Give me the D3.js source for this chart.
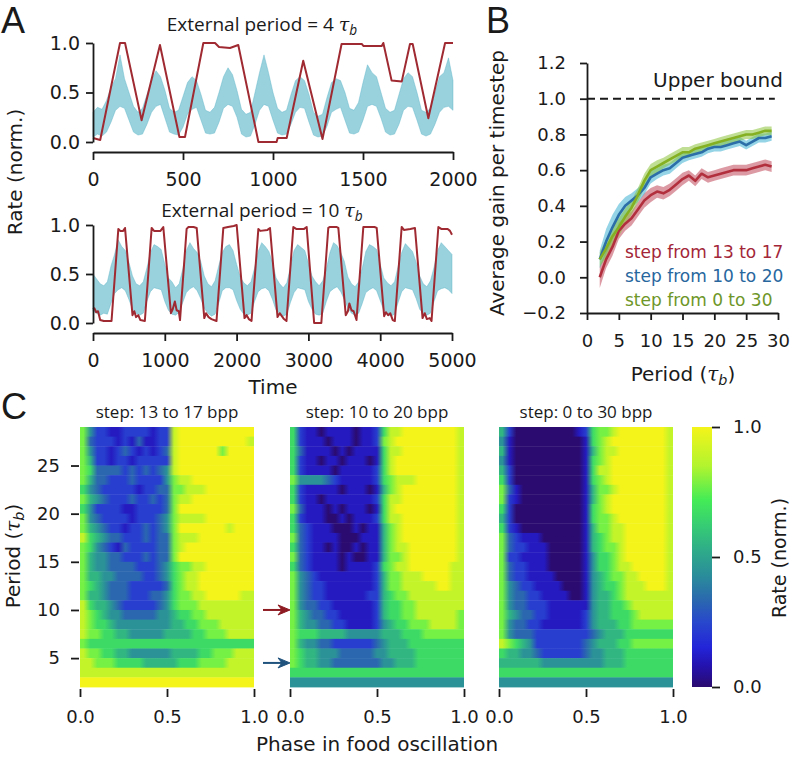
<!DOCTYPE html>
<html lang="en">
<head>
<meta charset="utf-8">
<title>food oscillation figure</title>
<script src="https://d3js.org/d3.v7.min.js"></script>
<style>
body { margin: 0; background: #fff; }
svg text { font-family: "DejaVu Sans", sans-serif; }
</style>
</head>
<body>
<svg id="fig" width="793" height="758"></svg>
<script>
// ---------------- data ----------------
// panel A, top: external period = 4 tau_b
var topRedT = [0, 40, 150, 178, 270, 372, 480, 511, 613, 678, 700, 761, 807, 919, 1020, 1026, 1076, 1168, 1275, 1381, 1493, 1502, 1604, 1613, 1659, 1715, 1761, 1776, 1863, 1956, 2000];
var topRedV = [0.04, 0.02, 1.0, 1.0, 0.22, 0.98, 0.05, 0.05, 1.0, 1.0, 0.96, 0.95, 0.98, 0.0, 0.0, 0.04, 0.04, 0.82, 0.03, 0.99, 0.99, 0.97, 0.97, 1.0, 0.62, 0.61, 0.99, 0.99, 0.24, 1.0, 1.0];
// cyan trace envelope, every 25 time units
var topCyanLo = [.05,.08,.06,.10,.20,.32,.36,.34, .22,.10,.07,.08,.18,.30,.36,.38, .24,.10,.08,.07,.15,.28,.33,.35,
  .22,.09,.08,.09,.20,.34,.38,.36, .25,.08,.05,.06,.18,.32,.38,.36, .22,.09,.07,.08,.18,.30,.35,.34,
  .20,.07,.05,.06,.16,.30,.33,.35, .22,.09,.08,.10,.22,.36,.38,.36, .24,.10,.07,.08,.18,.32,.36,.35,
  .22,.08,.06,.08,.18,.30,.35,.36, .32];
var topCyanHi = [.30,.35,.33,.42,.55,.64,.88,.64, .50,.36,.30,.34,.48,.62,.72,.66, .52,.34,.30,.32,.46,.60,.66,.62,
  .48,.32,.30,.35,.50,.66,.75,.68, .52,.33,.28,.30,.50,.70,.88,.70, .50,.34,.30,.32,.48,.62,.66,.62,
  .48,.30,.26,.28,.45,.60,.64,.62, .50,.34,.32,.40,.60,.78,.70,.66, .50,.34,.30,.32,.48,.64,.70,.66,
  .50,.32,.30,.34,.50,.66,.70,.85, .62];

// panel A, bottom: external period = 10 tau_b
var botRedT = [0, 20, 45, 70, 100, 150, 258, 353, 380, 420, 446, 550, 575, 600, 630, 660, 722,
  817, 850, 940, 979, 1085, 1110, 1140, 1165, 1195, 1212,
  1304, 1330, 1400, 1444, 1550, 1575, 1610, 1650, 1720,
  1815, 1880, 1960, 2001, 2110, 2140, 2170, 2208,
  2303, 2330, 2430, 2465, 2570, 2600, 2630, 2660, 2695,
  2790, 2830, 2940, 2976, 3080, 3180,
  3277, 3300, 3390, 3417, 3520, 3550, 3570, 3600, 3630, 3670,
  3765, 3800, 3920, 3951, 4055, 4080, 4110, 4140, 4175, 4204,
  4299, 4330, 4420, 4484, 4590, 4620, 4650, 4690, 4715,
  4810, 4850, 4940, 4972, 5000];
var botRedV = [0.14, 0.15, 0.11, 0.12, 0.03, 0.02, 0.02, 0.96, 0.94, 0.94, 0.97, 0.08, 0.12, 0.06, 0.08, 0.03, 0.02,
  0.97, 0.94, 0.94, 0.98, 0.10, 0.14, 0.22, 0.13, 0.12, 0.03,
  0.96, 0.98, 0.98, 0.97, 0.05, 0.10, 0.06, 0.04, 0.02,
  0.97, 0.98, 0.99, 1.0, 0.05, 0.08, 0.04, 0.02,
  0.96, 0.94, 0.95, 0.97, 0.06, 0.10, 0.07, 0.04, 0.02,
  0.98, 0.96, 0.96, 0.98, 0.0, 0.0,
  0.97, 0.98, 0.98, 0.97, 0.08, 0.12, 0.20, 0.13, 0.12, 0.03,
  0.98, 0.98, 0.98, 0.97, 0.07, 0.11, 0.08, 0.10, 0.03, 0.02,
  0.98, 0.95, 0.96, 0.97, 0.05, 0.10, 0.04, 0.05, 0.02,
  0.98, 0.96, 0.96, 0.94, 0.90];
// cyan trace envelope, every 50 time units
var botCyanLo = [.12,.10,.08,.10,.09,.20,.30,.34,.36,.33, .24,.14,.10,.08,.10,.22,.32,.36,.35,.34,
  .22,.13,.09,.08,.11,.21,.31,.35,.37,.33, .25,.15,.10,.07,.09,.20,.33,.36,.36,.34,
  .23,.14,.09,.08,.10,.22,.32,.35,.36,.33, .24,.13,.10,.07,.09,.21,.31,.36,.35,.34,
  .22,.14,.09,.08,.10,.22,.32,.35,.37,.32, .24,.15,.10,.08,.10,.20,.31,.34,.36,.33,
  .23,.13,.09,.07,.09,.21,.32,.36,.35,.34, .25,.14,.10,.08,.10,.22,.33,.35,.36,.34, .30];
var botCyanHi = [.50,.45,.40,.38,.42,.58,.70,.85,.78,.74, .62,.48,.40,.38,.42,.56,.72,.80,.78,.75,
  .60,.46,.42,.36,.40,.55,.74,.82,.76,.72, .63,.48,.40,.37,.43,.58,.72,.78,.80,.74,
  .60,.47,.41,.38,.42,.56,.73,.82,.78,.73, .62,.46,.40,.36,.41,.57,.74,.80,.77,.74,
  .61,.48,.42,.38,.43,.55,.72,.82,.79,.72, .63,.47,.40,.37,.42,.56,.73,.80,.78,.75,
  .60,.46,.41,.38,.42,.58,.72,.81,.77,.73, .62,.48,.40,.37,.43,.57,.74,.82,.78,.74, .70];

// panel B: average gain per timestep vs period
var periodsB = [2,3,4,5,6,7,8,9,10,11,12,13,14,15,16,17,18,19,20,21,22,23,24,25,26,27,28,29];
var gain13to17 = [0.0,0.1,0.17,0.26,0.3,0.33,0.38,0.43,0.46,0.48,0.47,0.49,0.52,0.55,0.57,0.54,0.58,0.56,0.57,0.58,0.59,0.6,0.6,0.6,0.61,0.62,0.63,0.62];
var gain10to20 = [0.1,0.2,0.28,0.35,0.4,0.43,0.46,0.5,0.56,0.58,0.6,0.61,0.64,0.67,0.68,0.69,0.7,0.72,0.73,0.73,0.74,0.75,0.76,0.74,0.76,0.78,0.78,0.79];
var gain0to30 = [0.1,0.16,0.23,0.28,0.34,0.39,0.46,0.54,0.6,0.62,0.64,0.66,0.68,0.7,0.7,0.72,0.73,0.74,0.75,0.76,0.77,0.78,0.79,0.8,0.8,0.81,0.82,0.82];
var err13to17 = [.06,.05,.05,.045,.04,.04,.04,.04,.04,.035,.035,.035,.035,.035,.03,.03,.03,.03,.03,.03,.03,.03,.03,.03,.03,.03,.03,.03];
var err10to20 = [.05,.07,.07,.06,.05,.04,.04,.035,.035,.03,.03,.03,.03,.03,.025,.025,.025,.025,.025,.025,.025,.025,.025,.025,.025,.025,.025,.025];
var err0to30  = [.04,.05,.05,.05,.045,.04,.04,.04,.035,.035,.03,.03,.03,.03,.03,.025,.025,.025,.025,.025,.025,.025,.025,.025,.025,.025,.025,.025];
var legendB = ["step from 13 to 17", "step from 10 to 20", "step from 0 to 30"];

// panel C: rate (norm.) per period (rows, 28 at top down to 2) and phase bin (columns),
// one digit per cell, value = digit / 9
var heat13to17 = [
  "7422112222122899999999999","7322212131122899999999998","7422123212123899999979999",
  "7522122122222899999999999","7633332323234899999999999","7533222322224788999999999",
  "6432222212233778889999999","7543222322323788999999999","6422221122223799999999999",
  "7432222122234788889999999","7543221223234799999998999","8654332223233788899999999",
  "7643213222233789999999999","7544332223233799999999999","7544333322234677889999999",
  "7554433332234678899999999","7654333222223678899999999","7554333222334677889999988",
  "8655432222234677788888888","8765443333344566778888888","8766544444444556677788888",
  "8776655444445555667778888","7666666666666666666666666","8776655444444555566777888",
  "8877766665555566677778888","8888888888888888888888888","9999999999999999999999999"];
var heat10to20 = [
  "6211011110112688999999998","6211101110112789999999998","6311110101111688999999998",
  "6211011011101689999999998","6211110111112689999999998","7444432111112678889999998",
  "6211111011101578999999998","6211011111112688999999998","7311101011101689999999998",
  "6211100101112688999999998","6321110001011578999999998","7321111000111578999999998",
  "6321101001011578899999998","7321111010011577899999998","6321111011112678899999988",
  "7432111111112577888999988","7432211111112577888889988","7432211111122567788888888",
  "7433221111112566778888888","7543322111112566778888887","7544332211112456677788887",
  "7666555544444555666777777","7544332222223455566666666","7655444333334455556666666",
  "7655443333333445556666666","6666666666666666666666666","4444444444444444444444444"];
var heat0to30 = [
  "5200000000012677899999998","4100000000001678999999998","5100000000001578899999998",
  "4100000000001678999999998","5200000000001688999999998","6200000000001678999999998",
  "7310000000001577899999998","7210000000001578999999998","6200000000001678999999998",
  "5200000000001677899999998","6210000000001577889999998","7321110000001567889999998",
  "7322111000001567789999998","7221111000001466789999998","7322111000001466788999998",
  "7322111100001456778899998","7432211110001456678889998","7433221111001455678888888",
  "7433222111111455667888888","7543322111112455666788888","7433221111112455566777777",
  "7433322222222345556666666","8765422222223455566777777","6554432222223445556666666",
  "5555554444444445556666666","6666666666666666666666666","4444444444444444444444444"];
var heatTitles = ["step: 13 to 17 bpp", "step: 10 to 20 bpp", "step: 0 to 30 bpp"];
var periodsC = [28,27,26,25,24,23,22,21,20,19,18,17,16,15,14,13,12,11,10,9,8,7,6,5,4,3,2];

// ---------------- drawing ----------------
var svg = d3.select("#fig");
var INK = "#1a1a1a";
var RED = "#a02a31", CYAN = "#55b2c6";

function styleAxis(g, fs) {
  g.selectAll("path, line").attr("stroke", INK).attr("stroke-width", 1.8);
  g.selectAll("text").attr("font-size", fs).attr("fill", INK)
    .attr("font-family", "DejaVu Sans, sans-serif");
}

// text with "tau_b"
function tauText(sel, before, after, fs) {
  sel.append("tspan").text(before);
  sel.append("tspan").attr("font-style", "italic").attr("font-family", "DejaVu Serif, serif").text("\u03C4");
  sel.append("tspan").attr("font-style", "italic").attr("font-size", fs * 0.72)
    .attr("dy", fs * 0.22).text("b");
  if (after) sel.append("tspan").attr("dy", -fs * 0.22).text(after);
}

// ----- panel A -----
function tracePanel(x, y, axisY, cyLo, cyHi, cyStep, redT, redV, xticks, title, titleY) {
  var cyT = d3.range(0, x.domain()[1] + 1, cyStep);
  var band = d3.area()
    .x(function (d, i) { return x(cyT[i]); })
    .y0(function (d, i) { return y(cyLo[i]); })
    .y1(function (d, i) { return y(cyHi[i]); });
  svg.append("path").datum(cyLo).attr("d", band)
    .attr("fill", CYAN).attr("fill-opacity", 0.6)
    .attr("stroke", CYAN).attr("stroke-width", 0.8).attr("stroke-opacity", 0.5);

  var line = d3.line()
    .x(function (d, i) { return x(redT[i]); })
    .y(function (d) { return y(d); });
  svg.append("path").datum(redV).attr("d", line)
    .attr("fill", "none").attr("stroke", RED).attr("stroke-width", 2)
    .attr("stroke-linejoin", "round");

  var ya = svg.append("g").attr("transform", "translate(" + x.range()[0] + ",0)")
    .call(d3.axisLeft(y).tickValues([0, 0.5, 1]).tickFormat(d3.format(".1f"))
      .tickSize(7).tickPadding(6).tickSizeOuter(0));
  styleAxis(ya, 19);
  var xa = svg.append("g").attr("transform", "translate(0," + axisY + ")")
    .call(d3.axisBottom(x).tickValues(xticks).tickFormat(d3.format("d"))
      .tickSize(8).tickPadding(13).tickSizeOuter(0));
  styleAxis(xa, 19);

  var t = svg.append("text").attr("x", 262).attr("y", titleY)
    .attr("text-anchor", "middle").attr("font-size", 19).attr("fill", INK)
    .style("font-family", "Open Sans, sans-serif");
  tauText(t, title, null, 19);
}

var xA1 = d3.scaleLinear().domain([0, 2000]).range([93, 453]);
var yA1 = d3.scaleLinear().domain([0, 1]).range([142, 43]);
tracePanel(xA1, yA1, 152, topCyanLo, topCyanHi, 25, topRedT, topRedV,
  [0, 500, 1000, 1500, 2000], "External period = 4 ", 31);

var xA2 = d3.scaleLinear().domain([0, 5000]).range([93, 452]);
var yA2 = d3.scaleLinear().domain([0, 1]).range([323, 225]);
tracePanel(xA2, yA2, 333, botCyanLo, botCyanHi, 50, botRedT, botRedV,
  [0, 1000, 2000, 3000, 4000, 5000], "External period = 10 ", 217);

svg.append("text").attr("transform", "translate(22,172) rotate(-90)")
  .attr("text-anchor", "middle").attr("font-size", 20).attr("fill", INK).text("Rate (norm.)");
svg.append("text").attr("x", 273).attr("y", 394)
  .attr("text-anchor", "middle").attr("font-size", 20).attr("fill", INK).text("Time");

// ----- panel B -----
var xB = d3.scaleLinear().domain([0, 30]).range([587, 778]);
var yB = d3.scaleLinear().domain([-0.2, 1.2]).range([313, 63]);

svg.append("line")
  .attr("x1", xB(0)).attr("x2", xB(29.5)).attr("y1", yB(1)).attr("y2", yB(1))
  .attr("stroke", INK).attr("stroke-width", 2).attr("stroke-dasharray", "8,5");
svg.append("text").attr("x", 783).attr("y", 87).attr("text-anchor", "end")
  .attr("font-size", 20).attr("fill", INK).text("Upper bound");

var seriesB = [
  { v: gain13to17, e: err13to17, line: "#b2303e", band: "#c0485a", text: "#a32638" },
  { v: gain10to20, e: err10to20, line: "#2b6ea8", band: "#3cb0d2", text: "#28679e" },
  { v: gain0to30,  e: err0to30,  line: "#84b022", band: "#8cc43c", text: "#6e9628" }
];
seriesB.forEach(function (s) {
  var band = d3.area()
    .x(function (d, i) { return xB(periodsB[i]); })
    .y0(function (d, i) { return yB(d - s.e[i]); })
    .y1(function (d, i) { return yB(d + s.e[i]); });
  svg.append("path").datum(s.v).attr("d", band)
    .attr("fill", s.band).attr("fill-opacity", 0.55);
});
seriesB.forEach(function (s) {
  var line = d3.line()
    .x(function (d, i) { return xB(periodsB[i]); })
    .y(function (d) { return yB(d); });
  svg.append("path").datum(s.v).attr("d", line)
    .attr("fill", "none").attr("stroke", s.line).attr("stroke-width", 2.6)
    .attr("stroke-linejoin", "round");
});
legendB.forEach(function (name, i) {
  svg.append("text").attr("x", 625).attr("y", 258 + i * 24)
    .attr("font-size", 17).attr("fill", seriesB[i].text).text(name);
});

var yaB = svg.append("g").attr("transform", "translate(587,0)")
  .call(d3.axisLeft(yB).tickValues([-0.2, 0, 0.2, 0.4, 0.6, 0.8, 1.0, 1.2])
    .tickFormat(function (d) { return d3.format(".1f")(d).replace("-", "\u2212"); })
    .tickSize(7).tickPadding(14).tickSizeOuter(0));
styleAxis(yaB, 18);
var xaB = svg.append("g").attr("transform", "translate(0,313)")
  .call(d3.axisBottom(xB).tickValues([0, 5, 10, 15, 20, 25, 30])
    .tickSize(7).tickPadding(14).tickSizeOuter(0));
styleAxis(xaB, 18);

svg.append("text").attr("transform", "translate(504,183) rotate(-90)")
  .attr("text-anchor", "middle").attr("font-size", 20).attr("fill", INK).text("Average gain per timestep");
var pB = svg.append("text").attr("x", 683).attr("y", 381)
  .attr("text-anchor", "middle").attr("font-size", 20).attr("fill", INK);
tauText(pB, "Period (", ")", 20);

// ----- panel C -----
var cmap = d3.scaleLinear()
  .domain([0, 0.08, 0.15, 0.25, 0.33, 0.42, 0.52, 0.62, 0.72, 0.85, 1])
  .range(["#2b0b6f", "#2412ad", "#2324d8", "#2848cc", "#2a66b0", "#2a8a9c",
          "#2eaa8a", "#36cc74", "#44ec56", "#b2f42e", "#f4f41a"]);
var yC = d3.scaleLinear().domain([2, 29]).range([687, 427]);
var defs = svg.append("defs");
var heatWidth = 174;
var heatLeft = [80, 290, 499];

[heat13to17, heat10to20, heat0to30].forEach(function (rows, h) {
  var x = d3.scaleLinear().domain([0, 1]).range([heatLeft[h], heatLeft[h] + heatWidth]);
  rows.forEach(function (row, r) {
    var p = periodsC[r];
    var n = row.length;
    var id = "hm" + h + "_" + r;
    var grad = defs.append("linearGradient").attr("id", id)
      .attr("gradientUnits", "userSpaceOnUse")
      .attr("x1", x(0)).attr("x2", x(1)).attr("y1", 0).attr("y2", 0);
    row.split("").forEach(function (ch, c) {
      var xc = x((c + 0.5) / n);
      grad.append("stop").attr("offset", (xc - x(0)) / heatWidth)
        .attr("stop-color", cmap(+ch / 9));
    });
    svg.append("rect")
      .attr("x", x(0)).attr("width", heatWidth)
      .attr("y", yC(p + 1)).attr("height", yC(p) - yC(p + 1) + 0.4)
      .attr("fill", "url(#" + id + ")");
  });

  var xa = svg.append("g").attr("transform", "translate(0,689)")
    .call(d3.axisBottom(x).tickValues([0, 0.5, 1]).tickFormat(d3.format(".1f"))
      .tickSize(8).tickPadding(13));
  xa.select(".domain").remove();
  styleAxis(xa, 18);

  svg.append("text").attr("x", x(0.5)).attr("y", 418)
    .attr("text-anchor", "middle").attr("font-size", 17).attr("fill", INK)
    .style("font-family", "Open Sans, sans-serif").text(heatTitles[h]);
});

var yaC = svg.append("g").attr("transform", "translate(79,0)")
  .call(d3.axisLeft(yC).tickValues([5, 10, 15, 20, 25]).tickSize(8).tickPadding(11));
yaC.select(".domain").remove();
styleAxis(yaC, 18);

var pC = svg.append("text").attr("transform", "translate(20,556) rotate(-90)")
  .attr("text-anchor", "middle").attr("font-size", 20).attr("fill", INK);
tauText(pC, "Period (", ")", 20);
svg.append("text").attr("x", 377).attr("y", 751)
  .attr("text-anchor", "middle").attr("font-size", 20).attr("fill", INK).text("Phase in food oscillation");

// arrows pointing at the two periods
[[10, "#8e1b22"], [4.5, "#1f527c"]].forEach(function (a) {
  var y = yC(a[0]);
  svg.append("line").attr("x1", 263).attr("x2", 284).attr("y1", y).attr("y2", y)
    .attr("stroke", a[1]).attr("stroke-width", 2);
  svg.append("path")
    .attr("d", "M290," + y + " L278," + (y - 5) + " L282," + y + " L278," + (y + 5) + " Z")
    .attr("fill", a[1]).attr("stroke", a[1]).attr("stroke-width", 1);
});

// colorbar
var yCb = d3.scaleLinear().domain([0, 1]).range([687, 427]);
var cbGrad = defs.append("linearGradient").attr("id", "cbar")
  .attr("x1", 0).attr("x2", 0).attr("y1", 1).attr("y2", 0);
cmap.domain().forEach(function (v) {
  cbGrad.append("stop").attr("offset", v).attr("stop-color", cmap(v));
});
svg.append("rect").attr("x", 692).attr("y", yCb(1)).attr("width", 20)
  .attr("height", yCb(0) - yCb(1)).attr("fill", "url(#cbar)");
var cba = svg.append("g").attr("transform", "translate(712,0)")
  .call(d3.axisRight(yCb).tickValues([0, 0.5, 1]).tickFormat(d3.format(".1f"))
    .tickSize(8).tickPadding(13));
cba.select(".domain").remove();
styleAxis(cba, 18);
svg.append("text").attr("transform", "translate(786,558) rotate(-90)")
  .attr("text-anchor", "middle").attr("font-size", 19).attr("fill", INK).text("Rate (norm.)");

// panel letters
[["A", 1, 33], ["B", 486, 33], ["C", 1, 419]].forEach(function (l) {
  svg.append("text").attr("x", l[1]).attr("y", l[2]).attr("fill", INK)
    .attr("font-size", 36).style("font-family", "Liberation Sans, Arial, sans-serif")
    .text(l[0]);
});
</script>
</body>
</html>
